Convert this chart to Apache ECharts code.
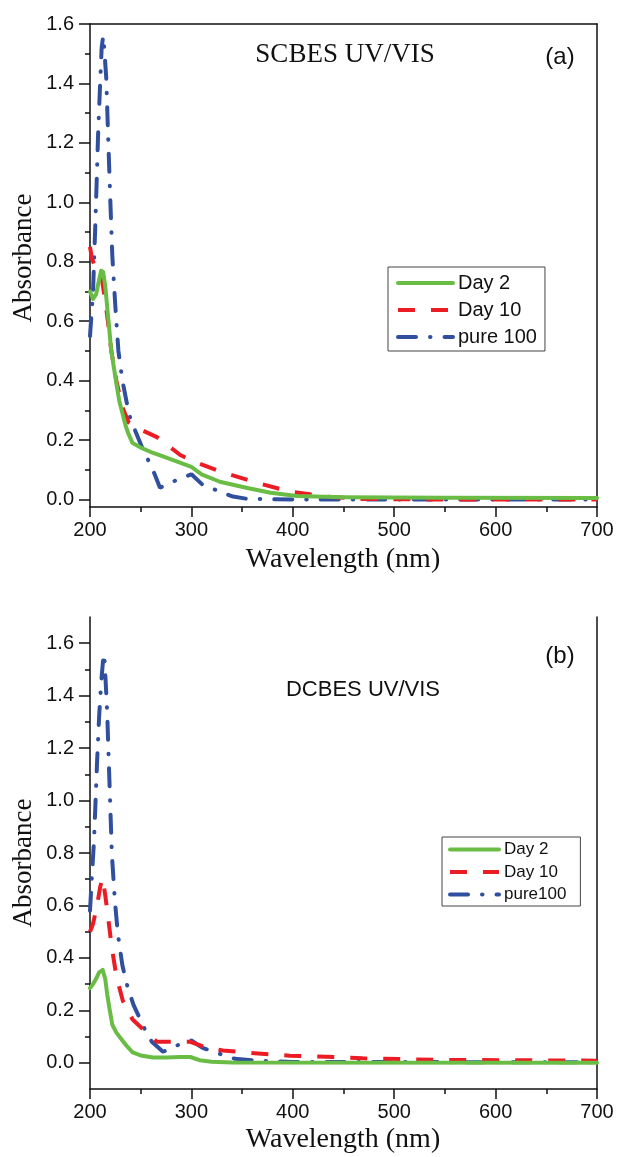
<!DOCTYPE html>
<html>
<head>
<meta charset="utf-8">
<script src="https://cdn.jsdelivr.net/npm/echarts@6/dist/echarts.min.js"></script>
<style>html,body{margin:0;padding:0;background:#fff;}#c{width:617px;height:1157px;}</style>
</head>
<body>
<div id="c"></div>
<script>
// ---- Panel (a) SCBES ----
const aDay2X = [200,203,206,209,211,213,215,218,221,226,229,232,235,238,242,250,260,272,288,300,310,328,354,378,404,450,550,700];
const aDay2Y = [0.70,0.675,0.69,0.74,0.77,0.765,0.72,0.61,0.50,0.39,0.33,0.29,0.25,0.22,0.19,0.175,0.16,0.145,0.125,0.11,0.085,0.06,0.04,0.023,0.012,0.008,0.006,0.005];
const aDay10X = [200,202,208,212,215,218,221,226,232,238,244,266,289,302,328,364,397,433,469,550,700];
const aDay10Y = [0.85,0.81,0.76,0.735,0.67,0.59,0.50,0.40,0.31,0.26,0.245,0.21,0.15,0.128,0.095,0.057,0.027,0.01,0.002,0.0,0.0];
const aPureX = [200,203,205,206.5,208,210,211.5,213,214,216,218,220,222,225,228,232,236,240,252,262,269,285,300,311,331,341,354,400,700];
const aPureY = [0.55,0.70,0.90,1.06,1.23,1.40,1.52,1.56,1.52,1.42,1.21,1.01,0.82,0.65,0.50,0.40,0.33,0.27,0.17,0.10,0.04,0.065,0.085,0.05,0.023,0.01,0.003,0.0,0.0];

// ---- Panel (b) DCBES ----
const bDay2X = [200,203,206,209,212.5,215,217,219.5,222,226,231,236,242,250,262,275,289,299,308,320,340,700];
const bDay2Y = [0.285,0.30,0.32,0.345,0.354,0.32,0.26,0.20,0.145,0.115,0.09,0.065,0.04,0.028,0.02,0.02,0.022,0.022,0.01,0.004,0.001,0.0];
const bDay10X = [200,203,207,210,212.5,215,218,221.5,226,232.5,242,256,266,282,299,315,331,351,397,433,469,506,542,700];
const bDay10Y = [0.50,0.53,0.60,0.67,0.705,0.64,0.55,0.44,0.33,0.235,0.165,0.114,0.08,0.08,0.08,0.057,0.047,0.04,0.027,0.023,0.017,0.014,0.011,0.008];
const bPureX = [200,202,204,205.5,207,209,211,213,214,215.5,217,218.5,220,221.5,224.5,227.5,232,237,243,249,255,261,272,285,300,311,331,343,364,400,700];
const bPureY = [0.58,0.72,0.85,1.0,1.15,1.32,1.45,1.54,1.56,1.45,1.33,1.15,0.98,0.80,0.62,0.49,0.37,0.29,0.22,0.17,0.12,0.08,0.042,0.065,0.085,0.057,0.03,0.015,0.008,0.003,0.002];

// ---- Tick labels ----
const yMajorTicks = [0,0.2,0.4,0.6,0.8,1.0,1.2,1.4,1.6];
const yMinorTicks = [0.1,0.3,0.5,0.7,0.9,1.1,1.3,1.5];
const legendA = ['Day 2','Day 10','pure 100'];
const legendB = ['Day 2 ','Day 10 ','pure100'];

const pairs = (xs, ys) => xs.map((x, i) => [x, ys[i]]);

const GREEN = '#69bd45', RED = '#ec1c24', BLUE = '#30509f';
const SANS = 'Liberation Sans', SERIF = 'Liberation Serif';
const AX = '#111';

function xMain(grid) {
  return {
    type: 'value', gridIndex: grid, min: 200, max: 700, interval: 100, position: 'bottom',
    axisLine: { show: true, onZero: false, lineStyle: { color: AX, width: 1.5 } },
    axisTick: { show: true, length: 10, lineStyle: { color: AX, width: 1.5 } },
    minorTick: { show: true, splitNumber: 2, length: 5, lineStyle: { color: AX, width: 1.5 } },
    axisLabel: { color: AX, fontFamily: SANS, fontSize: 20, margin: 13 },
    splitLine: { show: false }
  };
}
function xFrame(grid) {
  return {
    type: 'value', gridIndex: grid, min: 200, max: 700, position: 'top',
    axisLine: { show: true, onZero: false, lineStyle: { color: AX, width: 1.5 } },
    axisTick: { show: false }, axisLabel: { show: false }, splitLine: { show: false }
  };
}
function yMain(grid, min, max) {
  return {
    type: 'value', gridIndex: grid, min: min, max: max, position: 'left',
    axisLine: { show: true, onZero: false, lineStyle: { color: AX, width: 1.5 } },
    axisTick: { show: true, length: 11, customValues: yMajorTicks, lineStyle: { color: AX, width: 1.5 } },
    axisLabel: { color: AX, fontFamily: SANS, fontSize: 20, margin: 16, customValues: yMajorTicks,
                 formatter: v => v.toFixed(1) },
    splitLine: { show: false }
  };
}
function yMinor(grid, min, max) {
  return {
    type: 'value', gridIndex: grid, min: min, max: max, position: 'left',
    axisLine: { show: false },
    axisTick: { show: true, length: 5, customValues: yMinorTicks, lineStyle: { color: AX, width: 1.5 } },
    axisLabel: { show: false }, splitLine: { show: false }
  };
}
function yFrame(grid, min, max) {
  return {
    type: 'value', gridIndex: grid, min: min, max: max, position: 'right',
    axisLine: { show: true, onZero: false, lineStyle: { color: AX, width: 1.5 } },
    axisTick: { show: false }, axisLabel: { show: false }, splitLine: { show: false }
  };
}
function line(name, data, xi, yi, kind) {
  const ls = { width: 4 };
  if (kind === 0) { ls.color = GREEN; ls.type = 'solid'; ls.cap = 'round'; ls.join = 'round'; }
  if (kind === 1) { ls.color = RED; ls.type = [17, 16]; ls.cap = 'butt'; }
  if (kind === 2) { ls.color = BLUE; ls.type = [18, 14, 0.5, 14]; ls.cap = 'round'; }
  return {
    name: name, type: 'line', xAxisIndex: xi, yAxisIndex: yi, data: data,
    symbol: 'none', showSymbol: false, smooth: false, lineStyle: ls,
    itemStyle: { color: ls.color }, z: 3 - kind + 2, clip: true
  };
}

const chart = echarts.init(document.getElementById('c'), null, { renderer: 'canvas' });
chart.setOption({
  animation: false,
  backgroundColor: '#fff',
  grid: [
    { left: 90, right: 20, top: 24, height: 483 },
    { left: 90, right: 20, top: 617, height: 472 }
  ],
  xAxis: [xMain(0), xFrame(0), xMain(1)],
  yAxis: [
    yMain(0, -0.025, 1.6), yMinor(0, -0.025, 1.6), yFrame(0, -0.025, 1.6),
    yMain(1, -0.1, 1.7), yMinor(1, -0.1, 1.7), yFrame(1, -0.1, 1.7)
  ],
  legend: [
    { data: legendA, orient: 'vertical', left: 388, top: 267, itemWidth: 55, itemHeight: 20, itemGap: 7,
      padding: [6, 8, 4, 8], borderColor: '#444', borderWidth: 1, itemStyle: { opacity: 0 },
      lineStyle: { width: 4 },
      textStyle: { fontFamily: SANS, fontSize: 20, color: '#111' }, selectedMode: false },
    { data: legendB, orient: 'vertical', left: 442, top: 837, itemWidth: 49, itemHeight: 18, itemGap: 5.5,
      padding: [4, 14, 3, 6], borderColor: '#444', borderWidth: 1, itemStyle: { opacity: 0 },
      lineStyle: { width: 4 },
      textStyle: { fontFamily: SANS, fontSize: 17, color: '#111' }, selectedMode: false }
  ],
  graphic: [
    { type: 'text', x: 345, y: 55, style: { text: 'SCBES UV/VIS', font: '27px "Liberation Serif"', fill: '#111', textAlign: 'center', textVerticalAlign: 'middle' } },
    { type: 'text', x: 560, y: 57, style: { text: '(a)', font: '24px "Liberation Sans"', fill: '#111', textAlign: 'center', textVerticalAlign: 'middle' } },
    { type: 'text', x: 363, y: 690, style: { text: 'DCBES UV/VIS', font: '22px "Liberation Sans"', fill: '#111', textAlign: 'center', textVerticalAlign: 'middle' } },
    { type: 'text', x: 560, y: 656, style: { text: '(b)', font: '24px "Liberation Sans"', fill: '#111', textAlign: 'center', textVerticalAlign: 'middle' } },
    { type: 'text', x: 24, y: 258, rotation: Math.PI / 2, style: { text: 'Absorbance', font: '27px "Liberation Serif"', fill: '#111', textAlign: 'center', textVerticalAlign: 'middle' } },
    { type: 'text', x: 24, y: 863, rotation: Math.PI / 2, style: { text: 'Absorbance', font: '27px "Liberation Serif"', fill: '#111', textAlign: 'center', textVerticalAlign: 'middle' } },
    { type: 'text', x: 343, y: 560, style: { text: 'Wavelength (nm)', font: '28px "Liberation Serif"', fill: '#111', textAlign: 'center', textVerticalAlign: 'middle' } },
    { type: 'text', x: 343, y: 1140, style: { text: 'Wavelength (nm)', font: '28px "Liberation Serif"', fill: '#111', textAlign: 'center', textVerticalAlign: 'middle' } }
  ],
  series: [
    line(legendA[0], pairs(aDay2X, aDay2Y), 0, 0, 0),
    line(legendA[1], pairs(aDay10X, aDay10Y), 0, 0, 1),
    line(legendA[2], pairs(aPureX, aPureY), 0, 0, 2),
    line(legendB[0], pairs(bDay2X, bDay2Y), 2, 3, 0),
    line(legendB[1], pairs(bDay10X, bDay10Y), 2, 3, 1),
    line(legendB[2], pairs(bPureX, bPureY), 2, 3, 2)
  ]
});
</script>
</body>
</html>
